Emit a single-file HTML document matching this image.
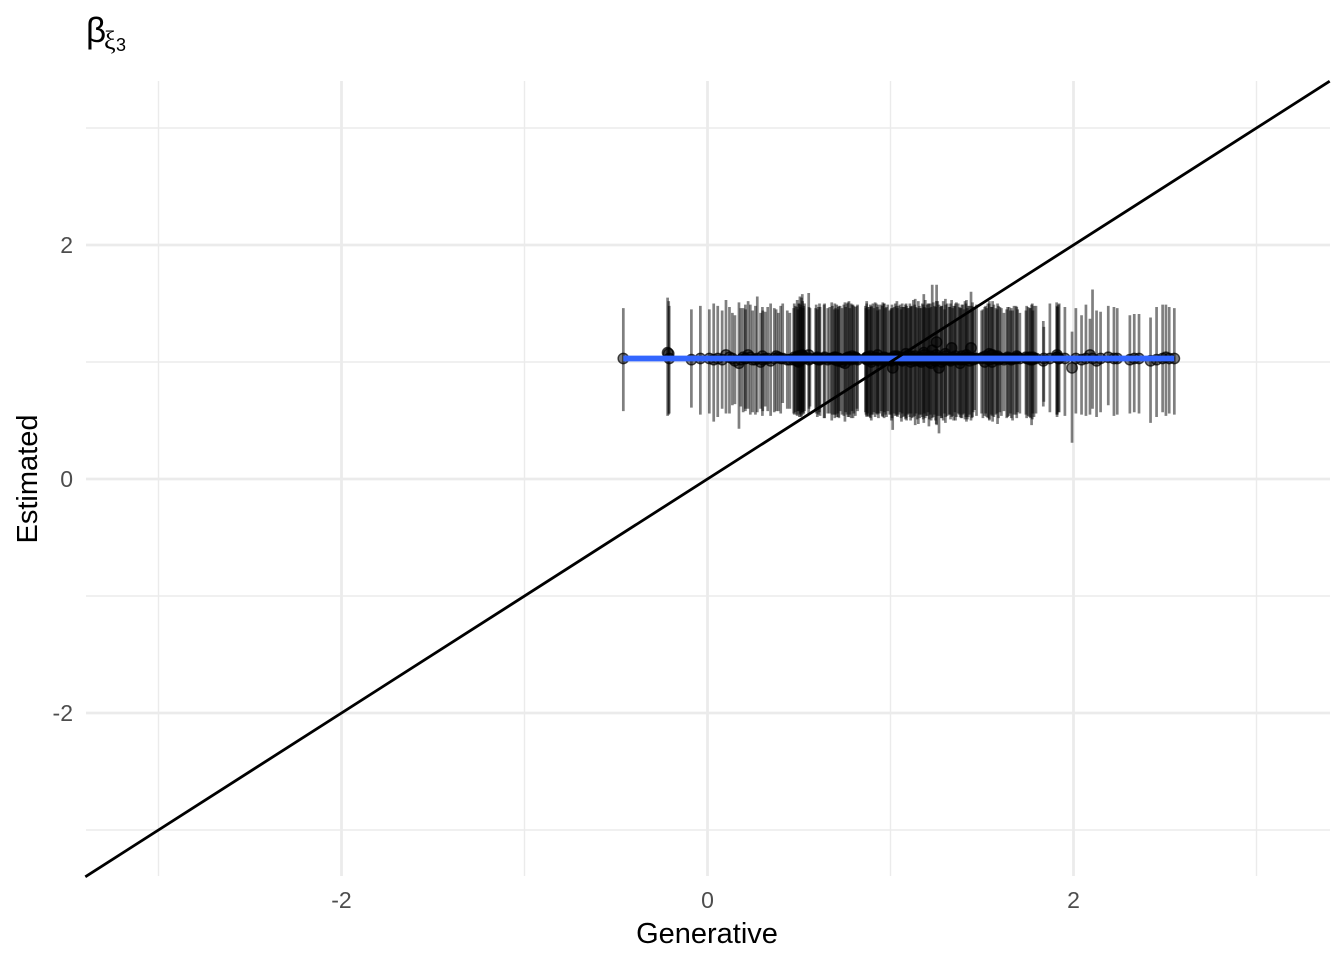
<!DOCTYPE html>
<html>
<head>
<meta charset="utf-8">
<style>
html,body{margin:0;padding:0;background:#fff;}
svg{display:block;font-family:"Liberation Sans",sans-serif;}
</style>
</head>
<body>
<svg id="chart" width="1344" height="960" viewBox="0 0 1344 960" xmlns="http://www.w3.org/2000/svg"></svg>
<script>
var xTicks = [-2, 0, 2];
var yTicks = [-2, 0, 2];
var xMinor = [-3, -1, 1, 3];
var yMinor = [-3, -1, 1, 3];
var refLine = [-3.4, 3.4];
var smoothX = [-0.46, 2.551];
var smoothY = [1.03, 1.03];
var gen = [-0.46,-0.218,-0.209,-0.088,-0.039,0.010,0.034,0.056,0.101,0.136,0.172,0.182,0.207,0.234,0.247,0.272,0.290,0.300,0.329,0.365,0.387,0.411,0.436,0.471,0.487,0.498,0.505,0.510,0.518,0.526,0.553,0.560,0.591,0.615,0.637,0.657,0.679,0.693,0.715,0.725,0.751,0.762,0.773,0.795,0.817,0.863,0.885,0.904,0.922,0.949,0.958,0.973,0.985,0.995,1.012,1.031,1.052,1.070,1.088,1.100,1.125,1.140,1.152,1.168,1.179,1.195,1.205,1.228,1.240,1.252,1.265,1.273,1.288,1.310,1.334,1.345,1.370,1.385,1.395,1.407,1.425,1.440,1.460,1.498,1.515,1.532,1.558,1.575,1.598,1.635,1.648,1.667,1.686,1.707,1.744,1.760,1.771,1.795,1.835,1.871,1.908,1.922,1.953,1.992,2.013,2.044,2.068,2.090,2.104,2.126,2.148,2.190,2.221,2.239,2.308,2.332,2.358,2.421,2.454,2.487,2.505,2.523,2.551];
var est = [1.03,1.08,1.03,1.02,1.03,1.03,1.02,1.03,1.06,1.03,0.99,1.02,1.03,1.04,1.02,1.03,1.00,1.05,1.03,1.03,1.04,1.03,1.02,1.02,1.03,1.00,1.05,1.02,1.06,1.03,1.06,1.03,1.03,1.02,1.03,1.02,1.03,1.04,1.03,1.02,0.99,1.03,1.04,1.03,1.03,1.03,1.02,1.03,1.03,1.03,1.02,1.03,1.03,1.03,0.95,1.03,1.04,1.02,1.03,1.03,1.03,1.02,1.03,1.00,1.03,1.03,1.04,1.10,1.03,1.17,0.95,1.03,1.02,1.03,1.12,1.03,1.03,1.02,1.03,1.03,1.03,1.12,1.03,1.03,1.00,1.03,1.06,1.03,1.03,1.03,1.03,1.03,1.03,1.03,1.03,1.04,1.03,1.03,1.01,1.03,1.04,1.03,1.03,0.95,1.03,1.02,1.03,1.06,1.03,1.01,1.03,1.04,1.03,1.03,1.02,1.03,1.03,1.01,1.02,1.03,1.04,1.03,1.03];
var hi = [1.46,1.55,1.48,1.45,1.48,1.45,1.50,1.48,1.53,1.42,1.51,1.46,1.49,1.49,1.44,1.56,1.42,1.47,1.47,1.46,1.42,1.50,1.44,1.46,1.47,1.50,1.56,1.49,1.58,1.48,1.59,1.46,1.46,1.47,1.49,1.46,1.51,1.45,1.47,1.48,1.51,1.50,1.52,1.49,1.48,1.48,1.47,1.50,1.50,1.49,1.51,1.46,1.49,1.44,1.46,1.48,1.49,1.47,1.48,1.46,1.53,1.47,1.52,1.46,1.49,1.46,1.50,1.66,1.48,1.66,1.49,1.47,1.52,1.50,1.53,1.48,1.50,1.46,1.49,1.52,1.48,1.60,1.47,1.44,1.47,1.50,1.52,1.46,1.47,1.45,1.47,1.44,1.48,1.42,1.48,1.46,1.49,1.48,1.35,1.50,1.51,1.50,1.47,1.26,1.46,1.40,1.49,1.37,1.62,1.44,1.43,1.48,1.47,1.46,1.40,1.41,1.41,1.38,1.47,1.49,1.49,1.47,1.46];
var lo = [0.58,0.54,0.56,0.61,0.55,0.56,0.49,0.53,0.56,0.63,0.43,0.62,0.58,0.55,0.57,0.57,0.60,0.54,0.58,0.57,0.58,0.65,0.60,0.56,0.55,0.58,0.55,0.53,0.57,0.56,0.56,0.62,0.58,0.54,0.52,0.56,0.50,0.55,0.53,0.58,0.49,0.55,0.53,0.52,0.60,0.57,0.53,0.55,0.56,0.58,0.53,0.55,0.58,0.55,0.42,0.55,0.57,0.53,0.50,0.56,0.53,0.56,0.47,0.55,0.51,0.54,0.57,0.52,0.55,0.46,0.39,0.54,0.50,0.54,0.53,0.50,0.56,0.52,0.55,0.51,0.53,0.50,0.59,0.56,0.54,0.52,0.49,0.55,0.57,0.52,0.54,0.50,0.55,0.56,0.52,0.53,0.46,0.56,0.62,0.57,0.55,0.57,0.54,0.31,0.56,0.55,0.54,0.55,0.60,0.53,0.57,0.63,0.54,0.55,0.56,0.57,0.56,0.48,0.53,0.57,0.54,0.56,0.55];

var genB = [-0.212,0.208,0.302,0.474,0.480,0.490,0.494,0.502,0.508,0.514,
0.520,0.522,0.530,0.555,0.594,0.600,0.606,0.612,0.682,0.696,
0.700,0.706,0.712,0.718,0.745,0.755,0.768,0.778,0.785,0.800,
0.808,0.820,0.866,0.870,0.875,0.880,0.890,0.896,0.910,0.916,
0.928,0.934,0.940,0.955,0.966,0.978,1.002,1.008,1.020,1.026,
1.038,1.044,1.058,1.064,1.076,1.082,1.094,1.106,1.112,1.118,
1.132,1.146,1.158,1.174,1.185,1.190,1.200,1.212,1.218,1.234,
1.246,1.258,1.280,1.295,1.302,1.320,1.328,1.340,1.352,1.360,
1.376,1.390,1.402,1.412,1.420,1.432,1.448,1.452,1.470,1.505,
1.520,1.526,1.540,1.550,1.565,1.582,1.590,1.606,1.640,1.655,
1.660,1.675,1.695,1.752,1.765,1.778,1.784,1.838,1.912,1.918];
var estB = [1.07,1.03,1.02,1.04,1.03,1.01,1.05,1.03,1.02,1.04,
1.03,1.05,1.03,1.02,1.03,1.04,1.02,1.03,1.03,1.02,
1.04,1.03,1.01,1.03,1.02,1.03,1.04,1.03,1.02,1.03,
1.04,1.02,1.03,1.02,1.04,1.03,1.05,1.02,1.03,1.04,
1.02,1.03,1.01,1.03,1.04,1.03,1.02,1.03,1.05,1.03,
1.02,1.04,1.03,1.01,1.03,1.04,1.02,1.03,1.05,1.03,
1.01,1.03,1.04,1.02,1.06,1.03,1.02,1.00,1.05,1.03,
1.01,1.04,1.03,1.02,1.05,1.03,1.01,1.04,1.03,1.02,
1.03,1.05,1.02,1.03,1.04,1.01,1.03,1.02,1.03,1.04,
1.05,1.03,1.02,1.06,1.03,1.04,1.02,1.03,1.04,1.03,
1.02,1.03,1.04,1.03,1.02,1.04,1.03,1.03,1.04,1.03];
var hiB = [1.52,1.45,1.44,1.50,1.48,1.53,1.45,1.50,1.47,1.55,
1.52,1.46,1.50,1.47,1.49,1.45,1.47,1.50,1.48,1.50,
1.46,1.49,1.45,1.48,1.49,1.47,1.51,1.46,1.50,1.48,
1.47,1.49,1.46,1.50,1.47,1.45,1.49,1.48,1.46,1.51,
1.47,1.49,1.45,1.48,1.50,1.47,1.45,1.49,1.47,1.50,
1.46,1.48,1.45,1.50,1.47,1.49,1.46,1.50,1.47,1.48,
1.49,1.46,1.48,1.50,1.47,1.53,1.49,1.46,1.50,1.51,
1.47,1.52,1.48,1.45,1.49,1.47,1.50,1.46,1.48,1.51,
1.47,1.49,1.45,1.50,1.46,1.48,1.51,1.47,1.49,1.45,
1.48,1.46,1.50,1.47,1.49,1.45,1.48,1.46,1.47,1.44,
1.46,1.48,1.45,1.47,1.46,1.44,1.48,1.30,1.47,1.49];
var loB = [0.55,0.60,0.58,0.55,0.57,0.54,0.58,0.53,0.56,0.54,
0.57,0.55,0.58,0.60,0.56,0.53,0.55,0.57,0.55,0.52,
0.55,0.53,0.56,0.52,0.54,0.57,0.53,0.55,0.52,0.56,
0.54,0.58,0.55,0.53,0.56,0.54,0.52,0.55,0.57,0.53,
0.55,0.52,0.56,0.54,0.57,0.53,0.55,0.52,0.56,0.54,
0.53,0.55,0.52,0.56,0.54,0.51,0.55,0.53,0.56,0.52,
0.54,0.51,0.55,0.53,0.56,0.52,0.54,0.51,0.55,0.53,
0.50,0.54,0.52,0.56,0.53,0.55,0.51,0.54,0.57,0.53,
0.55,0.52,0.56,0.53,0.51,0.55,0.53,0.57,0.54,0.52,
0.56,0.53,0.51,0.55,0.53,0.56,0.52,0.54,0.53,0.56,
0.52,0.55,0.57,0.54,0.52,0.56,0.53,0.66,0.55,0.57];

var genC = [0.080,0.120,0.150,0.195,0.222,0.262,0.315,0.345,0.375,0.400,
0.450,0.640,0.668,0.735,0.790,0.870,0.895,0.930,0.965,1.005,
1.035,1.060,1.085,1.110,1.135,1.160,1.182,1.210,1.222,1.250,
1.278,1.300,1.325,1.355,1.380,1.415,1.445,1.540,1.555,1.585,
1.620,1.690,1.740,1.775,1.910];
var estC = [1.02,1.04,1.01,1.04,1.06,1.02,1.03,1.01,1.05,1.03,
1.02,1.04,1.03,1.00,1.05,1.04,1.00,1.06,1.03,1.01,
1.05,1.02,1.07,1.00,1.05,1.01,1.08,1.04,0.99,1.06,
1.00,1.07,1.02,1.05,0.99,1.06,1.03,1.07,1.00,1.05,
1.02,1.05,1.04,1.02,1.06];
var hiC = [1.44,1.47,1.40,1.46,1.52,1.48,1.43,1.50,1.45,1.48,
1.42,1.50,1.47,1.46,1.49,1.52,1.47,1.44,1.50,1.46,
1.52,1.47,1.50,1.48,1.54,1.46,1.58,1.50,1.47,1.52,
1.48,1.54,1.47,1.50,1.46,1.53,1.48,1.52,1.47,1.50,
1.42,1.47,1.44,1.50,1.48];
var loC = [0.60,0.56,0.64,0.57,0.60,0.55,0.62,0.54,0.58,0.56,
0.60,0.52,0.56,0.55,0.58,0.54,0.50,0.56,0.52,0.50,
0.54,0.49,0.52,0.50,0.46,0.52,0.48,0.45,0.50,0.47,
0.52,0.48,0.55,0.50,0.53,0.49,0.52,0.50,0.54,0.47,
0.58,0.52,0.55,0.51,0.53];

var allGen = gen.concat(genB, genC);
var allEst = est.concat(estB, estC);
var allHi = hi.concat(hiB, hiC);
var allLo = lo.concat(loB, loC);

var svg = document.getElementById('chart');
var NS = 'http://www.w3.org/2000/svg';
function xScale(v){ return 707.5 + v * 183; }
function yScale(v){ return 479 - v * 117; }
function add(tag, attrs, parent){
  var el = document.createElementNS(NS, tag);
  for (var k in attrs) el.setAttribute(k, attrs[k]);
  (parent || svg).appendChild(el);
  return el;
}
var gridG = add('g', {});


xMinor.forEach(function(v){
  var l = add('line', {x1:xScale(v), x2:xScale(v), y1:81, y2:876, stroke:'#ebebeb', 'stroke-width':1.4}, gridG);
  
  
});
yMinor.forEach(function(v){
  var l = add('line', {x1:86, x2:1330, y1:yScale(v), y2:yScale(v), stroke:'#ebebeb', 'stroke-width':1.4}, gridG);
  
  
});
xTicks.forEach(function(v){
  var l = add('line', {x1:xScale(v), x2:xScale(v), y1:81, y2:876, stroke:'#ebebeb', 'stroke-width':2.8}, gridG);
  
  
  var t = add('text', {x:xScale(v), y:908, 'text-anchor':'middle', 'font-size':23, fill:'#4d4d4d'});
  
  
  t.textContent = v;
});
yTicks.forEach(function(v){
  var l = add('line', {x1:86, x2:1330, y1:yScale(v), y2:yScale(v), stroke:'#ebebeb', 'stroke-width':2.8}, gridG);
  
  
  var t = add('text', {x:73, y:yScale(v)+8, 'text-anchor':'end', 'font-size':23, fill:'#4d4d4d'});
  
  
  t.textContent = v;
});
var barsG = add('g', {});


allGen.forEach(function(g, i){
  var b = add('line', {x1:xScale(g), x2:xScale(g), y1:yScale(allHi[i]), y2:yScale(allLo[i]), stroke:'#000', 'stroke-opacity':0.5, 'stroke-width':2.7}, barsG);
  
  
});
var ptsG = add('g', {});


allGen.forEach(function(g, i){
  var p = add('circle', {cx:xScale(g), cy:yScale(allEst[i]), r:5.2, fill:'#000', 'fill-opacity':0.5, stroke:'#000', 'stroke-opacity':0.7, 'stroke-width':1.4}, ptsG);
  
  
});
var sm = add('line', {x1:xScale(smoothX[0]), y1:yScale(smoothY[0]), x2:xScale(smoothX[1]), y2:yScale(smoothY[1]), stroke:'#3366ff', 'stroke-width':5.8});


var ref = add('line', {x1:xScale(refLine[0]), y1:yScale(refLine[0]), x2:xScale(refLine[1]), y2:yScale(refLine[1]), stroke:'#000', 'stroke-width':2.8});



var xt = add('text', {x:707, y:943, 'text-anchor':'middle', 'font-size':29, fill:'#000'});


xt.textContent = 'Generative';
var yt = add('text', {x:0, y:0, transform:'translate(37,479) rotate(-90)', 'text-anchor':'middle', 'font-size':29, fill:'#000'});


yt.textContent = 'Estimated';
var title = add('text', {x:86, y:42, 'font-size':35, fill:'#000'});


title.textContent = 'β';
var sub1 = add('text', {x:104, y:49, 'font-size':26, fill:'#000', 'font-family':'"Liberation Serif", serif'});


sub1.textContent = 'ξ';
var sub2 = add('text', {x:116, y:51, 'font-size':18, fill:'#000'});


sub2.textContent = '3';
</script>
</body>
</html>
